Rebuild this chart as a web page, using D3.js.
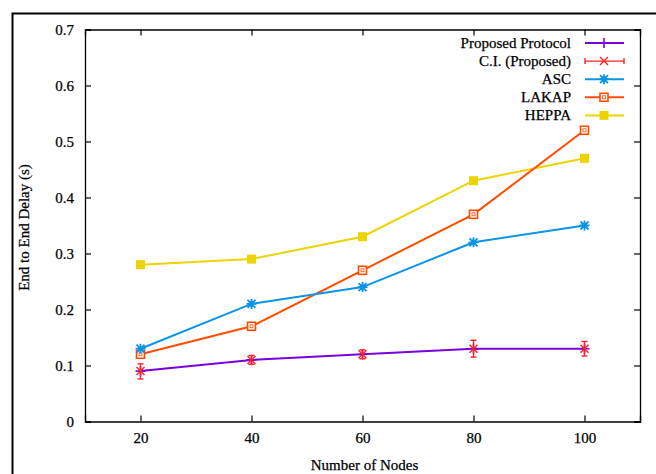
<!DOCTYPE html>
<html><head><meta charset="utf-8">
<script src="https://cdn.jsdelivr.net/npm/d3@7/dist/d3.min.js"></script>
<style>
body{margin:0;background:#fff;}
svg{display:block;}
</style></head>
<body><svg id="c" width="656" height="474"></svg>
<script>
const nodes = [20, 40, 60, 80, 100];
const proposed = [0.09, 0.11, 0.12, 0.13, 0.13];
const ciLow = [0.076, 0.102, 0.112, 0.115, 0.117];
const ciHigh = [0.103, 0.118, 0.128, 0.145, 0.143];
const asc = [0.13, 0.21, 0.24, 0.32, 0.35];
const lakap = [0.12, 0.17, 0.27, 0.37, 0.52];
const heppa = [0.28, 0.29, 0.33, 0.43, 0.47];
const yTicks = [0, 0.1, 0.2, 0.3, 0.4, 0.5, 0.6, 0.7];
const xTicks = [20, 40, 60, 80, 100];
const legendLabels = ["Proposed Protocol", "C.I. (Proposed)", "ASC", "LAKAP", "HEPPA"];

const colors = {prop:"#7a00dc", ci:"#ff2020", asc:"#0a94e6", lakap:"#ff4a00", heppa:"#ecd400"};
const FONT = "'Liberation Serif'";

const svg = d3.select("#c");
const L=85, R=640, T=29.5, B=421.5;
const x = d3.scaleLinear().domain([10,110]).range([L,R]);
const y = d3.scaleLinear().domain([0,0.7]).range([B,T]);

// outer frame
svg.append("rect").attr("x",12.5).attr("y",13.5).attr("width",700).attr("height",500)
  .attr("fill","none").attr("stroke","#000").attr("stroke-width",2);

const g = svg.append("g");
const tk = 6;
g.append("g").attr("transform",`translate(0,${B})`)
  .call(d3.axisBottom(x).tickValues(xTicks).tickSize(-tk).tickPadding(11).tickFormat(d3.format("d")));
g.append("g").attr("transform",`translate(0,${T})`)
  .call(d3.axisTop(x).tickValues(xTicks).tickSize(-tk).tickFormat(""));
g.append("g").attr("transform",`translate(${L},0)`)
  .call(d3.axisLeft(y).tickValues(yTicks).tickSize(-tk).tickPadding(11).tickFormat(d=>d===0?"0":d3.format(".1f")(d)));
g.append("g").attr("transform",`translate(${R},0)`)
  .call(d3.axisRight(y).tickValues(yTicks).tickSize(-tk).tickFormat(""));
g.selectAll(".domain").attr("stroke","#000").attr("stroke-width",1.3);
g.selectAll(".tick line").attr("stroke","#000").attr("stroke-width",1.2);
g.selectAll("g").attr("font-family",FONT);
g.selectAll(".tick text").attr("font-size",15).attr("fill","#000")
  .attr("font-family",FONT).attr("stroke","#000").attr("stroke-width",0.25);

// axis titles
svg.append("text").attr("x",(L+R)/2 + 2).attr("y",470).attr("text-anchor","middle")
  .attr("font-family",FONT).attr("stroke","#000").attr("stroke-width",0.25)
  .attr("font-size",15).text("Number of Nodes");
svg.append("text").attr("transform",`translate(28.5,227.5) rotate(-90)`).attr("text-anchor","middle")
  .attr("font-family",FONT).attr("stroke","#000").attr("stroke-width",0.25)
  .attr("font-size",15).text("End to End Delay (s)");

const line = d3.line().x((d,i)=>x(nodes[i])).y(d=>y(d));

function drawSeries(vals, color){
  svg.append("path").datum(vals).attr("d",line).attr("fill","none").attr("stroke",color).attr("stroke-width",2);
}
drawSeries(heppa, colors.heppa);
drawSeries(lakap, colors.lakap);
drawSeries(asc, colors.asc);
drawSeries(proposed, colors.prop);

function marker(sel, type, cx, cy, color){
  const s = sel.append("g").attr("transform",`translate(${cx},${cy})`);
  if(type==="plus"){
    s.append("line").attr("x1",0).attr("x2",0).attr("y1",-5).attr("y2",5).attr("stroke",color).attr("stroke-width",1.6);
    s.append("line").attr("x1",-5).attr("x2",5).attr("y1",0).attr("y2",0).attr("stroke",color).attr("stroke-width",1.6);
  } else if(type==="x"){
    s.append("path").attr("d","M-4,-4L4,4M-4,4L4,-4").attr("stroke",color).attr("stroke-width",1.4);
  } else if(type==="osq"){
    s.append("rect").attr("x",-4).attr("y",-4).attr("width",8).attr("height",8).attr("fill","#fff").attr("stroke",color).attr("stroke-width",1.6);
    s.append("rect").attr("x",-1.5).attr("y",-1.5).attr("width",3).attr("height",3).attr("fill","none").attr("stroke",color).attr("stroke-width",0.8);
  } else if(type==="fsq"){
    s.append("rect").attr("x",-4.5).attr("y",-4.5).attr("width",9).attr("height",9).attr("fill",color);
  } else if(type==="star"){
    s.append("path").attr("d","M-4,-4L4,4M-4,4L4,-4M-5,0L5,0M0,-5L0,5").attr("stroke",color).attr("stroke-width",1.8);
    s.append("rect").attr("x",-2.5).attr("y",-2.5).attr("width",5).attr("height",5).attr("fill",color);
  }
}
const mk = svg.append("g");
heppa.forEach((v,i)=>marker(mk,"fsq",x(nodes[i]),y(v),colors.heppa));
lakap.forEach((v,i)=>marker(mk,"osq",x(nodes[i]),y(v),colors.lakap));
asc.forEach((v,i)=>marker(mk,"star",x(nodes[i]),y(v),colors.asc));
proposed.forEach((v,i)=>marker(mk,"plus",x(nodes[i]),y(v),colors.prop));
// CI error bars
nodes.forEach((n,i)=>{
  const cx=x(n);
  const eb = svg.append("g").attr("stroke",colors.ci).attr("stroke-width",1.4);
  eb.append("line").attr("x1",cx).attr("x2",cx).attr("y1",y(ciLow[i])).attr("y2",y(ciHigh[i]));
  eb.append("line").attr("x1",cx-3).attr("x2",cx+3).attr("y1",y(ciLow[i])).attr("y2",y(ciLow[i]));
  eb.append("line").attr("x1",cx-3).attr("x2",cx+3).attr("y1",y(ciHigh[i])).attr("y2",y(ciHigh[i]));
  marker(svg,"x",cx,y(proposed[i]),colors.ci);
});

// legend
const legColors=[colors.prop,colors.ci,colors.asc,colors.lakap,colors.heppa];
const legTypes=["plus","x","star","osq","fsq"];
const lx1=585, lx2=624, lm=604;
legendLabels.forEach((lab,i)=>{
  const ly = 43 + i*18.1;
  svg.append("text").attr("x",571).attr("y",ly).attr("dy","0.33em").attr("text-anchor","end")
    .attr("font-family",FONT).attr("stroke","#000").attr("stroke-width",0.25)
    .attr("font-size",15).text(lab);
  if(i===1){
    const e=svg.append("g").attr("stroke",colors.ci).attr("stroke-width",1.4);
    e.append("line").attr("x1",lx1).attr("x2",lx2).attr("y1",ly).attr("y2",ly);
    e.append("line").attr("x1",lx1).attr("x2",lx1).attr("y1",ly-3).attr("y2",ly+3);
    e.append("line").attr("x1",lx2).attr("x2",lx2).attr("y1",ly-3).attr("y2",ly+3);
    marker(svg,"x",lm,ly,colors.ci);
  } else {
    svg.append("line").attr("x1",lx1).attr("x2",lx2).attr("y1",ly).attr("y2",ly).attr("stroke",legColors[i]).attr("stroke-width",2);
    marker(svg,legTypes[i],lm,ly,legColors[i]);
  }
});
</script></body></html>
